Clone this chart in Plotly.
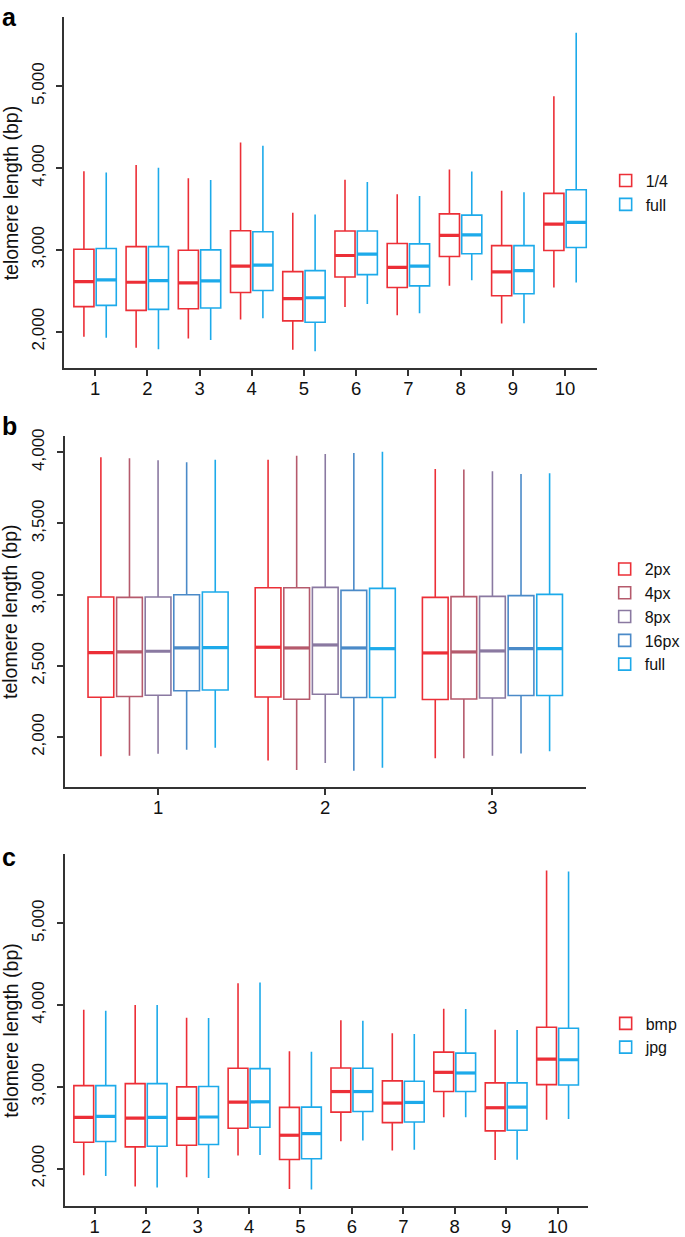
import plotly.graph_objects as go

# ---------------- data ----------------
# Panel a: chromosomes/groups 1..10, series "1/4" and "full"
a_groups = [1, 2, 3, 4, 5, 6, 7, 8, 9, 10]
a_series = ["1/4", "full"]
a_q_lower = [1938, 1804, 1918, 2148, 1780, 2301, 2200, 2560, 2100, 2540]
a_q_q1 = [2306, 2261, 2281, 2479, 2132, 2669, 2540, 2919, 2439, 2992]
a_q_med = [2612, 2604, 2596, 2802, 2403, 2931, 2786, 3178, 2730, 3315]
a_q_q3 = [3008, 3040, 2996, 3234, 2734, 3230, 3077, 3440, 3052, 3690]
a_q_upper = [3960, 4038, 3876, 4312, 3452, 3856, 3678, 3981, 3723, 4877]

a_f_lower = [1926, 1785, 1898, 2164, 1761, 2337, 2225, 2628, 2104, 2600]
a_f_q1 = [2322, 2273, 2289, 2503, 2116, 2697, 2560, 2952, 2463, 3028]
a_f_med = [2633, 2624, 2620, 2814, 2415, 2948, 2802, 3182, 2746, 3336]
a_f_q3 = [3016, 3040, 3000, 3222, 2746, 3230, 3073, 3424, 3052, 3735]
a_f_upper = [3945, 4002, 3852, 4272, 3432, 3828, 3658, 3957, 3703, 5653]

# Panel b: groups 1..3, series 2px, 4px, 8px, 16px, full
b_groups = [1, 2, 3]
b_series = ["2px", "4px", "8px", "16px", "full"]
b_lower = [[1866, 1836, 1852], [1869, 1769, 1852], [1883, 1818, 1869], [1911, 1764, 1885], [1925, 1785, 1901]]
b_q1 = [[2280, 2282, 2264], [2285, 2266, 2268], [2294, 2301, 2275], [2326, 2278, 2292], [2331, 2278, 2292]]
b_med = [[2593, 2631, 2591], [2598, 2626, 2598], [2603, 2647, 2605], [2626, 2626, 2621], [2628, 2621, 2621]]
b_q3 = [[2984, 3049, 2981], [2981, 3049, 2986], [2984, 3051, 2988], [3000, 3030, 2993], [3019, 3044, 3002]]
b_upper = [[3964, 3948, 3883], [3957, 3976, 3878], [3943, 3987, 3866], [3929, 3994, 3848], [3948, 4003, 3852]]

# Panel c: groups 1..10, series "bmp" and "jpg"
c_groups = [1, 2, 3, 4, 5, 6, 7, 8, 9, 10]
c_series = ["bmp", "jpg"]
c_b_lower = [1919, 1781, 1895, 2162, 1753, 2336, 2223, 2628, 2105, 2599]
c_b_q1 = [2324, 2267, 2287, 2494, 2113, 2692, 2563, 2943, 2462, 3028]
c_b_med = [2628, 2619, 2615, 2814, 2409, 2943, 2802, 3178, 2745, 3340]
c_b_q3 = [3016, 3040, 3000, 3227, 2749, 3231, 3073, 3425, 3049, 3729]
c_b_upper = [3943, 4000, 3846, 4267, 3437, 3814, 3656, 3955, 3700, 5644]

c_j_lower = [1911, 1769, 1887, 2166, 1745, 2344, 2231, 2628, 2109, 2607]
c_j_q1 = [2332, 2275, 2296, 2506, 2121, 2700, 2571, 2943, 2470, 3024]
c_j_med = [2640, 2628, 2632, 2818, 2429, 2943, 2810, 3170, 2753, 3332]
c_j_q3 = [3016, 3040, 3004, 3223, 2753, 3227, 3069, 3413, 3049, 3717]
c_j_upper = [3931, 4000, 3842, 4275, 3429, 3810, 3648, 3951, 3696, 5632]

ab_colors = ["#EC2F37", "#1DAAEA"]
b_colors = ["#EC2F37", "#B55A6C", "#8A79A1", "#4B8AC8", "#1DAAEA"]

ytick_ac = [2000, 3000, 4000, 5000]
ytick_b = [2000, 2500, 3000, 3500, 4000]

# ---------------- styling ----------------
W, H = 685, 1237
FONT = "Liberation Sans, Arial, Helvetica, sans-serif"
AX = "#333333"
GROUP_W = 0.855
BOX_FRAC = 0.9

fig = go.Figure()


def add_panel(groups, series, stats, colors, xa, ya, legend):
    n = len(series)
    slot = GROUP_W / n
    bw = slot * BOX_FRAC
    for j, name in enumerate(series):
        lo, q1, med, q3, up = stats[j]
        off = (j - (n - 1) / 2) * slot
        xs = [g + off for g in groups]
        fig.add_trace(go.Box(
            x=xs, lowerfence=lo, q1=q1, median=med, q3=q3, upperfence=up,
            name=name, width=bw, whiskerwidth=0, boxpoints=False,
            line=dict(color=colors[j], width=1.6), fillcolor="rgba(255,255,255,0)",
            xaxis=xa, yaxis=ya, legend=legend, hoverinfo="skip",
        ))
        mx, my = [], []
        for x, m in zip(xs, med):
            mx += [x - bw / 2, x + bw / 2, None]
            my += [m, m, None]
        fig.add_trace(go.Scatter(
            x=mx, y=my, mode="lines", line=dict(color=colors[j], width=3.2),
            showlegend=False, xaxis=xa, yaxis=ya, hoverinfo="skip",
        ))


add_panel(a_groups, a_series,
          [(a_q_lower, a_q_q1, a_q_med, a_q_q3, a_q_upper),
           (a_f_lower, a_f_q1, a_f_med, a_f_q3, a_f_upper)],
          ab_colors, "x", "y", "legend")
add_panel(b_groups, b_series,
          [(b_lower[j], b_q1[j], b_med[j], b_q3[j], b_upper[j]) for j in range(len(b_series))],
          b_colors, "x2", "y2", "legend2")
add_panel(c_groups, c_series,
          [(c_b_lower, c_b_q1, c_b_med, c_b_q3, c_b_upper),
           (c_j_lower, c_j_q1, c_j_med, c_j_q3, c_j_upper)],
          ab_colors, "x3", "y3", "legend3")


def px_x(p):
    return p / W


def px_y(p):
    return 1 - p / H


panels = [
    # x0, x1, y top, y bottom, xrange, yrange, yticks, letter, letter centre y, groups
    (66, 613, 10, 364, [0.41, 10.61], [1552, 5846], ytick_ac, "a", 10, a_groups),
    (66.7, 601.7, 431.7, 785.7, [0.443, 3.559], [1650, 4117], ytick_b, "b", 422, b_groups),
    (66.3, 604.3, 853.3, 1207.7, [0.413, 10.6], [1545, 5846], ytick_ac, "c", 856, c_groups),
]

axis_common = dict(showline=True, linecolor=AX, linewidth=1.6, ticks="outside",
                   ticklen=6, tickwidth=1.6, tickcolor=AX, showgrid=False,
                   zeroline=False)

annotations = []
for i, (x0, x1, yt, yb, xr, yr, yt_vals, letter, ly, groups) in enumerate(panels):
    sfx = "" if i == 0 else str(i + 1)
    fig.layout["xaxis" + sfx] = dict(
        domain=[px_x(x0), px_x(x1)], range=xr, anchor="y" + sfx,
        tickvals=groups, ticktext=[str(g) for g in groups], ticklabelstandoff=-3,
        tickfont=dict(family=FONT, size=18.5, color="#111"),
        **axis_common)
    fig.layout["yaxis" + sfx] = dict(
        domain=[px_y(yb), px_y(yt)], range=yr, anchor="x" + sfx,
        tickvals=yt_vals, tickformat=",d", tickangle=-90, ticklabelstandoff=6,
        tickfont=dict(family=FONT, size=17, color="#111"),
        **axis_common)
    annotations.append(dict(
        text="<b>%s</b>" % letter, x=0, y=px_y(ly), xref="paper", yref="paper",
        xanchor="left", yanchor="middle", showarrow=False,
        font=dict(family=FONT, size=25, color="#000")))
    annotations.append(dict(
        text="telomere length (bp)", x=px_x(11), y=px_y((yt + yb) / 2),
        xref="paper", yref="paper", xanchor="center", yanchor="middle",
        textangle=-90, showarrow=False,
        font=dict(family=FONT, size=19.5, color="#111")))

leg_common = dict(font=dict(family=FONT, size=16, color="#111"), bgcolor="rgba(0,0,0,0)",
                  xanchor="left", yanchor="middle", tracegroupgap=0, itemwidth=30)
fig.update_layout(
    width=W, height=H, autosize=False,
    margin=dict(l=0, r=0, t=0, b=0),
    paper_bgcolor="white", plot_bgcolor="white",
    boxmode="overlay",
    annotations=annotations,
    legend=dict(x=px_x(622), y=px_y(187), **leg_common),
    legend2=dict(x=px_x(621), y=px_y(614), **leg_common),
    legend3=dict(x=px_x(622), y=px_y(1036), **leg_common),
)

fig.write_html("out.html", config={"displayModeBar": False},
               post_script="document.body.style.margin='0';")
